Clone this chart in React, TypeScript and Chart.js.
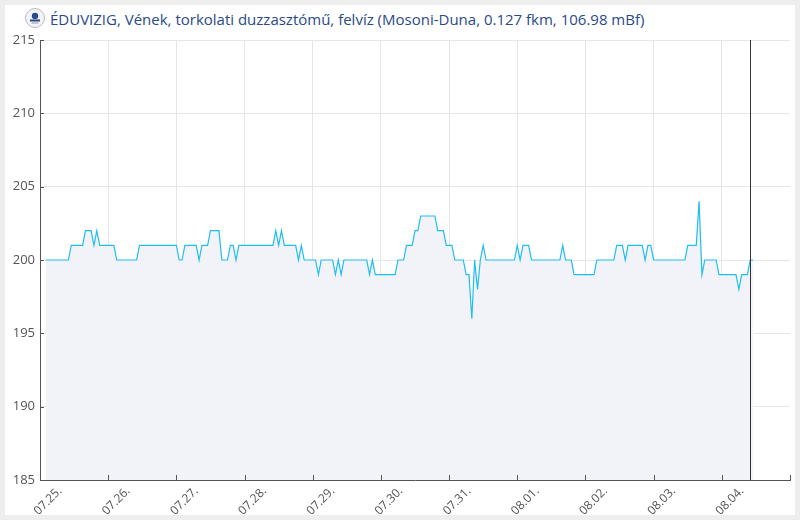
import { useEffect, useRef } from 'react';
import { Chart, registerables } from 'chart.js';

Chart.register(...registerables);

const TITLE = 'ÉDUVIZIG, Vének, torkolati duzzasztómű, felvíz (Mosoni-Duna, 0.127 fkm, 106.98 mBf)';
const FONT = '"Open Sans", Lato, sans-serif';

// x axis: hours since 07.25. 00:00, one tick per day
const DAY_LABELS = ['07.25.', '07.26.', '07.27.', '07.28.', '07.29.', '07.30.', '07.31.', '08.01.', '08.02.', '08.03.', '08.04.'];
const HOURS_PER_DAY = 24;
const AXIS_DAYS = 11;

// hourly water level readings (cm), first reading at 07.25. 02:00
const FIRST_HOUR = 2;
const LEVELS = [
  200, 200, 200, 200, 200, 200, 200, 200, 200, 201,
  201, 201, 201, 201, 202, 202, 202, 201, 202, 201,
  201, 201, 201, 201, 201, 200, 200, 200, 200, 200,
  200, 200, 200, 201, 201, 201, 201, 201, 201, 201,
  201, 201, 201, 201, 201, 201, 201, 200, 200, 201,
  201, 201, 201, 201, 200, 201, 201, 201, 202, 202,
  202, 202, 200, 200, 200, 201, 201, 200, 201, 201,
  201, 201, 201, 201, 201, 201, 201, 201, 201, 201,
  201, 202, 201, 202, 201, 201, 201, 201, 201, 200,
  201, 200, 200, 200, 200, 200, 199, 200, 200, 200,
  200, 200, 199, 200, 199, 200, 200, 200, 200, 200,
  200, 200, 200, 200, 199, 200, 199, 199, 199, 199,
  199, 199, 199, 199, 200, 200, 200, 201, 201, 201,
  202, 202, 203, 203, 203, 203, 203, 203, 202, 202,
  202, 201, 201, 201, 200, 200, 200, 200, 199, 199,
  196, 200, 198, 200, 201, 200, 200, 200, 200, 200,
  200, 200, 200, 200, 200, 200, 201, 200, 201, 201,
  201, 200, 200, 200, 200, 200, 200, 200, 200, 200,
  200, 200, 201, 200, 200, 200, 199, 199, 199, 199,
  199, 199, 199, 199, 200, 200, 200, 200, 200, 200,
  200, 201, 201, 201, 200, 201, 201, 201, 201, 201,
  201, 200, 201, 201, 200, 200, 200, 200, 200, 200,
  200, 200, 200, 200, 200, 200, 201, 201, 201, 201,
  204, 199, 200, 200, 200, 200, 200, 199, 199, 199,
  199, 199, 199, 199, 198, 199, 199, 199, 200, 200,
];

// current time marker: 08.04. 10:00
const NOW_HOUR = 250;

const Y_MIN = 185;
const Y_MAX = 215;
const Y_STEP = 5;

const innerTicks = {
  id: 'innerTicks',
  afterDraw(chart: any) {
    const { ctx, chartArea, scales } = chart;
    const xs = scales.x;
    const ys = scales.y;
    ctx.save();
    ctx.lineWidth = 1;
    ctx.strokeStyle = '#555555';
    ctx.beginPath();
    xs.ticks.forEach((t: any) => {
      const px = Math.round(xs.getPixelForValue(t.value)) + 0.5;
      ctx.moveTo(px, chartArea.bottom);
      ctx.lineTo(px, chartArea.bottom - 5);
    });
    ys.ticks.forEach((t: any) => {
      const py = Math.round(ys.getPixelForValue(t.value)) + 0.5;
      ctx.moveTo(chartArea.left, py);
      ctx.lineTo(chartArea.left + 4, py);
    });
    ctx.stroke();
    const nx = Math.round(xs.getPixelForValue(NOW_HOUR)) + 0.5;
    ctx.strokeStyle = '#333333';
    ctx.beginPath();
    ctx.moveTo(nx, chartArea.top);
    ctx.lineTo(nx, chartArea.bottom);
    ctx.stroke();
    ctx.restore();
  },
};

export default function App() {
  const canvasRef = useRef<HTMLCanvasElement | null>(null);

  useEffect(() => {
    if (!canvasRef.current) return;
    Chart.defaults.font.family = FONT;
    const points = LEVELS.map((v, i) => ({ x: FIRST_HOUR + i, y: v }));
    const chart = new Chart(canvasRef.current, {
      type: 'line',
      data: {
        datasets: [
          {
            data: points,
            borderColor: '#1fbef2',
            borderWidth: 1.2,
            backgroundColor: '#f2f3f8',
            fill: 'start',
            pointRadius: 0,
            tension: 0,
          },
        ],
      },
      options: {
        animation: false,
        responsive: false,
        events: [],
        layout: { padding: { top: 35, right: 5, bottom: 0, left: 0 } },
        plugins: { legend: { display: false }, tooltip: { enabled: false } },
        scales: {
          x: {
            type: 'linear',
            min: 0,
            max: AXIS_DAYS * HOURS_PER_DAY,
            afterBuildTicks: (scale: any) => {
              const ticks = [];
              for (let d = 0; d <= AXIS_DAYS; d++) ticks.push({ value: d * HOURS_PER_DAY });
              scale.ticks = ticks;
            },
            afterFit: (scale: any) => {
              scale.height = 35;
              scale.paddingLeft = 0;
              scale.paddingRight = 0;
            },
            grid: {
              color: (c: any) => (c.tick && c.tick.value === AXIS_DAYS * HOURS_PER_DAY ? 'rgba(0,0,0,0)' : '#e6e6e6'),
              drawTicks: false,
            },
            border: { display: true, color: '#555555' },
            ticks: {
              autoSkip: false,
              maxRotation: 45,
              minRotation: 45,
              padding: 4,
              labelOffset: 20,
              color: '#555555',
              font: { size: 12, family: FONT },
              callback: (value: any) => DAY_LABELS[Math.round(Number(value) / HOURS_PER_DAY)] ?? '',
            },
          },
          y: {
            min: Y_MIN,
            max: Y_MAX,
            afterFit: (scale: any) => {
              scale.width = 35;
              scale.paddingTop = 0;
              scale.paddingBottom = 0;
            },
            grid: { color: '#e6e6e6', drawTicks: false },
            border: { display: true, color: '#555555' },
            ticks: {
              stepSize: Y_STEP,
              padding: 5,
              color: '#555555',
              font: { size: 13, family: FONT },
            },
          },
        },
      },
      plugins: [innerTicks],
    });
    return () => chart.destroy();
  }, []);

  return (
    <div style={{ position: 'fixed', inset: 0, background: '#eeeeee' }}>
      <div style={{ position: 'absolute', left: 5, top: 5, width: 790, height: 510, background: '#ffffff' }}>
        <svg width="22" height="22" viewBox="0 0 22 22" style={{ position: 'absolute', left: 19, top: 2 }}>
          <circle cx="11" cy="11" r="9.5" fill="#f4f4f6" stroke="#b8bcc8" strokeWidth="1" />
          <circle cx="11" cy="9" r="3.2" fill="#2b4a8a" />
          <rect x="6" y="12.5" width="10" height="2" fill="#2b4a8a" />
          <rect x="7.5" y="15.5" width="7" height="1" fill="#8a96b4" />
        </svg>
        <div
          style={{
            position: 'absolute',
            left: 45,
            top: 4,
            fontFamily: FONT,
            fontSize: 15,
            lineHeight: '20px',
            color: '#2a4a8a',
            whiteSpace: 'nowrap',
          }}
        >
          {TITLE}
        </div>
        <canvas ref={canvasRef} width={790} height={510} style={{ position: 'absolute', left: 0, top: 0 }} />
      </div>
    </div>
  );
}
